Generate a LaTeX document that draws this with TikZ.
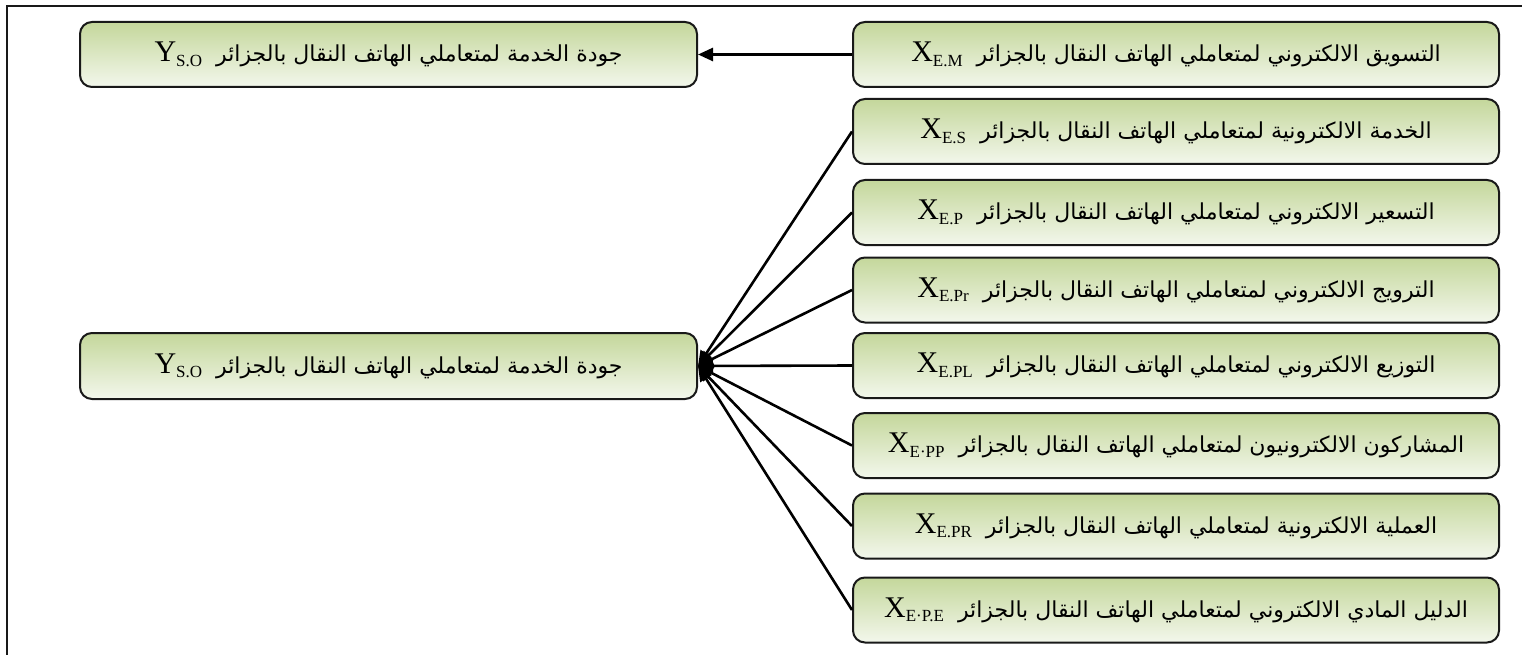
\documentclass[tikz,border=0pt]{standalone}
\usepackage{fontspec}
\usetikzlibrary{arrows.meta}
\TeXXeTstate=1
\newfontfamily\arabicfont[Script=Arabic]{DejaVu Sans}
\newfontfamily\latinf{Liberation Serif}
\definecolor{boxtop}{RGB}{196,215,155}
\definecolor{boxbot}{RGB}{243,247,236}
\definecolor{edge}{RGB}{25,25,25}
\newcommand\xlab[2]{\beginL{\latinf\fontsize{30}{30}\selectfont #1\raisebox{-0.16em}{\fontsize{17}{17}\selectfont #2}}\endL}
\newcommand\artext[2]{{\arabicfont\fontsize{22}{26}\selectfont\beginR #1\hspace{14pt}#2\endR}}
\begin{document}
\begin{tikzpicture}[x=1pt,y=-1pt,
  vbox/.style={draw=edge, line width=2pt, rounded corners=12pt, top color=boxtop, bottom color=boxbot, minimum height=65pt, inner sep=0pt},
  lbox/.style={vbox, minimum width=617pt},
  rbox/.style={vbox, minimum width=646pt},
  conn/.style={line width=2.6pt, draw=black, -{Triangle[length=15pt,width=13pt]}}]
\useasboundingbox (0,0) rectangle (1522,655);
\draw[line width=1.8pt, draw=edge] (7,655) -- (7,6) -- (1522,6);

\node[lbox] (y1) at (388.5,54.5) {\artext{جودة الخدمة لمتعاملي الهاتف النقال بالجزائر}{\xlab{Y}{S.O}}};
\node[lbox, minimum height=66pt] (y2) at (388.5,366) {\artext{جودة الخدمة لمتعاملي الهاتف النقال بالجزائر}{\xlab{Y}{S.O}}};

\node[rbox] (r1) at (1176,54.5) {\artext{التسويق الالكتروني لمتعاملي الهاتف النقال بالجزائر}{\xlab{X}{E.M}}};
\node[rbox] (r2) at (1176,131.5) {\artext{الخدمة الالكترونية لمتعاملي الهاتف النقال بالجزائر}{\xlab{X}{E.S}}};
\node[rbox] (r3) at (1176,212.5) {\artext{التسعير الالكتروني لمتعاملي الهاتف النقال بالجزائر}{\xlab{X}{E.P}}};
\node[rbox] (r4) at (1176,290) {\artext{الترويج الالكتروني لمتعاملي الهاتف النقال بالجزائر}{\xlab{X}{E.Pr}}};
\node[rbox] (r5) at (1176,365.5) {\artext{التوزيع الالكتروني لمتعاملي الهاتف النقال بالجزائر}{\xlab{X}{E.PL}}};
\node[rbox] (r6) at (1176,445.5) {\artext{المشاركون الالكترونيون لمتعاملي الهاتف النقال بالجزائر}{\xlab{X}{E·PP}}};
\node[rbox] (r7) at (1176,526) {\artext{العملية الالكترونية لمتعاملي الهاتف النقال بالجزائر}{\xlab{X}{E.PR}}};
\node[rbox] (r8) at (1176,610) {\artext{الدليل المادي الالكتروني لمتعاملي الهاتف النقال بالجزائر}{\xlab{X}{E·P.E}}};

\draw[conn] (r1.west) -- (y1.east);
\foreach \i in {2,...,8} {\draw[conn] (r\i.west) -- (y2.east);}
\end{tikzpicture}
\end{document}
